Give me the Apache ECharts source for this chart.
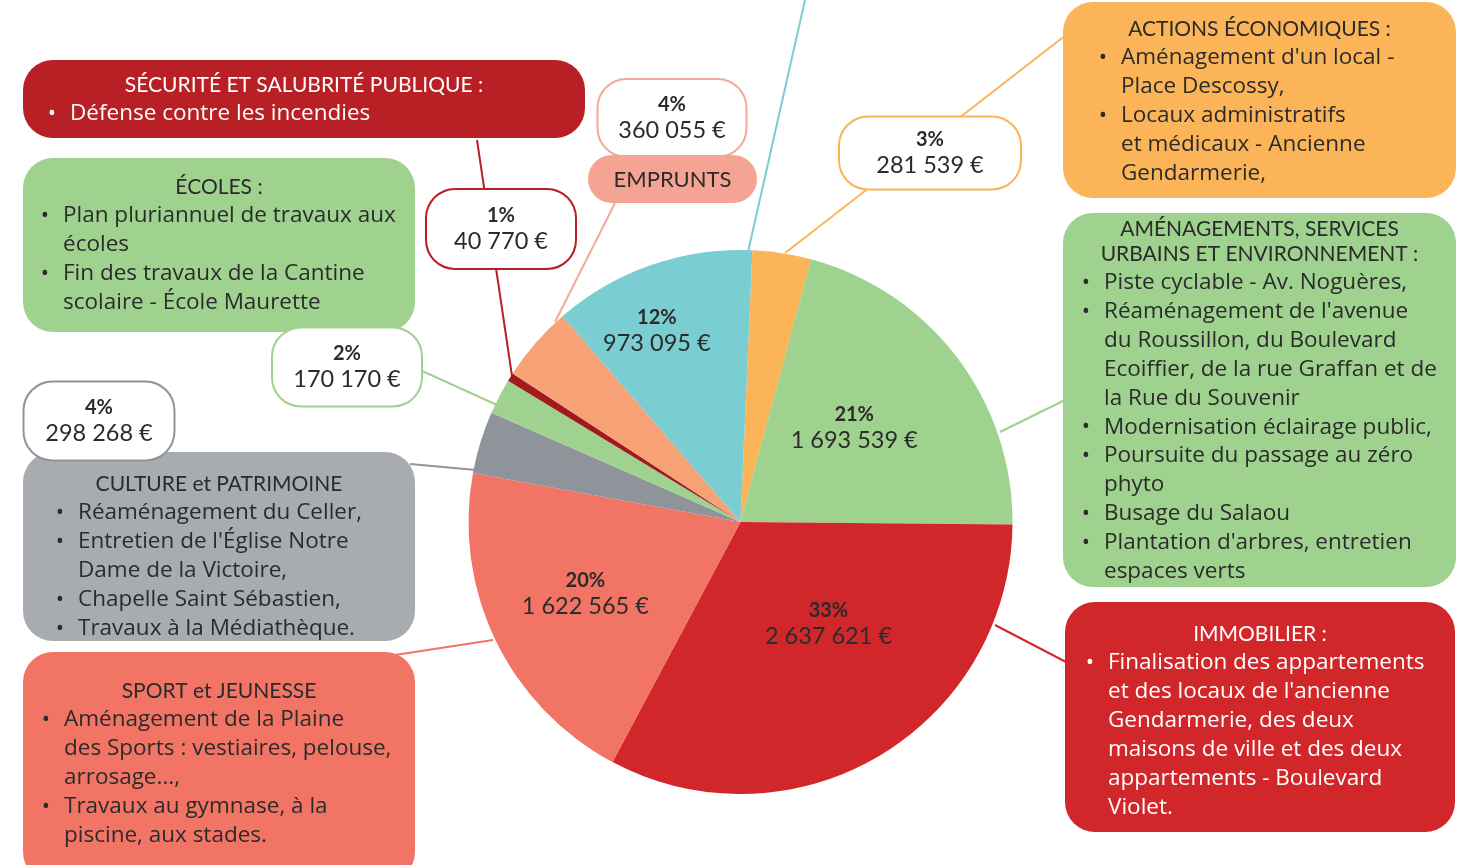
<!DOCTYPE html>
<html>
<head>
<meta charset="utf-8">
<script src="https://cdn.jsdelivr.net/npm/echarts@6/dist/echarts.min.js"></script>
<style>
  html, body { margin: 0; padding: 0; background: #fff; }
  #chart { width: 1471px; height: 865px; }
</style>
</head>
<body>
<div id="chart"></div>
<script>
// parts du camembert, dans le sens horaire a partir du haut
var categories = ['ACTIONS ÉCONOMIQUES', 'AMÉNAGEMENTS, SERVICES URBAINS ET ENVIRONNEMENT', 'IMMOBILIER',
  'SPORT et JEUNESSE', 'CULTURE et PATRIMOINE', 'ÉCOLES', 'SÉCURITÉ ET SALUBRITÉ PUBLIQUE', 'EMPRUNTS', 'AUTRES'];
var montants = [281539, 1693539, 2637621, 1622565, 298268, 170170, 40770, 360055, 973095];
var couleurs = ['#FBB457', '#9FD18F', '#D2272A', '#F27465', '#8F939A', '#9FD18F', '#A01A1E', '#F6A176', '#7ACDD1'];

// textes des encadres
var titreActions = ['ACTIONS ÉCONOMIQUES :'];
var pucesActions = [['Aménagement d\'un local -', 'Place Descossy,'], ['Locaux administratifs', 'et médicaux - Ancienne', 'Gendarmerie,']];
var titreAmenag = ['AMÉNAGEMENTS, SERVICES', 'URBAINS ET ENVIRONNEMENT :'];
var pucesAmenag = [['Piste cyclable - Av. Noguères,'],
  ['Réaménagement de l\'avenue', 'du Roussillon, du Boulevard', 'Ecoiffier, de la rue Graffan et de', 'la Rue du Souvenir'],
  ['Modernisation éclairage public,'], ['Poursuite du passage au zéro', 'phyto'], ['Busage du Salaou'],
  ['Plantation d\'arbres, entretien', 'espaces verts']];
var titreImmo = ['IMMOBILIER :'];
var pucesImmo = [['Finalisation des appartements', 'et des locaux de l\'ancienne', 'Gendarmerie, des deux',
  'maisons de ville et des deux', 'appartements - Boulevard', 'Violet.']];
var titreSport = ['SPORT et JEUNESSE'];
var pucesSport = [['Aménagement de la Plaine', 'des Sports : vestiaires, pelouse,', 'arrosage...,'], ['Travaux au gymnase, à la', 'piscine, aux stades.']];
var titreCulture = ['CULTURE et PATRIMOINE'];
var pucesCulture = [['Réaménagement du Celler,'], ['Entretien de l\'Église Notre', 'Dame de la Victoire,'], ['Chapelle Saint Sébastien,'], ['Travaux à la Médiathèque.']];
var titreEcoles = ['ÉCOLES :'];
var pucesEcoles = [['Plan pluriannuel de travaux aux', 'écoles'], ['Fin des travaux de la Cantine', 'scolaire - École Maurette']];
var titreSecurite = ['SÉCURITÉ ET SALUBRITÉ PUBLIQUE :'];
var pucesSecurite = [['Défense contre les incendies']];

var FONT_T = 'Lato';
var FONT_B = '"Open Sans"';
var SOMBRE = '#2B2B2B';

var boites = [
  {titre: titreActions, puces: pucesActions, x: 1063, y: 2, w: 393, h: 196, fond: '#FBB457', coul: SOMBRE, ty: 29, tx: 1121},
  {titre: titreAmenag, puces: pucesAmenag, x: 1063, y: 213, w: 393, h: 374, fond: '#9FD18F', coul: SOMBRE, ty: 229, tx: 1104},
  {titre: titreImmo, puces: pucesImmo, x: 1065, y: 602, w: 390, h: 230, fond: '#D2272A', coul: '#fff', ty: 634, tx: 1108},
  {titre: titreSport, puces: pucesSport, x: 23, y: 652, w: 392, h: 230, fond: '#F27465', coul: SOMBRE, ty: 691, tx: 64},
  {titre: titreCulture, puces: pucesCulture, x: 23, y: 452, w: 392, h: 189, fond: '#A8ABB0', coul: SOMBRE, ty: 484, tx: 78},
  {titre: titreEcoles, puces: pucesEcoles, x: 23, y: 158, w: 392, h: 174, fond: '#9FD18F', coul: SOMBRE, ty: 187, tx: 63},
  {titre: titreSecurite, puces: pucesSecurite, x: 23, y: 60, w: 562, h: 78, fond: '#B82025', coul: '#fff', ty: 85, tx: 70}
];

// traits de rappel
var traits = [
  {p: [785, 253, 1066, 35], c: '#FBB457'},
  {p: [1000, 432, 1065, 400], c: '#9FD18F'},
  {p: [995, 625, 1066, 662], c: '#D2272A'},
  {p: [493, 640, 395, 655], c: '#F27465'},
  {p: [476, 470, 410, 464], c: '#8F939A'},
  {p: [497, 405, 420, 370], c: '#9FD18F'},
  {p: [512, 376, 477, 140], c: '#B82025'},
  {p: [555, 322, 615, 203], c: '#F4A898'},
  {p: [748, 252, 805, 0], c: '#7ACDD1'}
];

// encadres blancs des petites parts : centre, taille, bordure
var etiquettesExt = {
  0: {x: 930, y: 153, w: 184, h: 75, c: '#FBB457'},
  4: {x: 99, y: 421, w: 153, h: 81, c: '#8F939A'},
  5: {x: 347, y: 367, w: 152, h: 81, c: '#9FD18F'},
  6: {x: 501, y: 229, w: 152, h: 82, c: '#B82025'},
  7: {x: 672, y: 118, w: 151, h: 80, c: '#F4A898'}
};
var decalagesInt = {1: [3, -10], 2: [17, -18], 3: [-30, 11], 8: [-38, -60]};

function euros(v) {
  return String(v).replace(/\B(?=(\d{3})+(?!\d))/g, ' ') + ' €';
}

var riche = {
  p: {fontFamily: FONT_T, fontSize: 20, fontWeight: 'bold', color: SOMBRE, lineHeight: 25, align: 'center'},
  v: {fontFamily: FONT_T, fontSize: 23.5, color: SOMBRE, lineHeight: 26, align: 'center'}
};

var donnees = montants.map(function (v, i) {
  var e = etiquettesExt[i];
  var label;
  if (e) {
    label = {
      show: true, position: 'outside', backgroundColor: '#fff', borderColor: e.c, borderWidth: 2,
      borderRadius: 28, width: e.w - 4, padding: [(e.h - 51) / 2 - 2, 0, (e.h - 51) / 2 - 2, 0], align: 'center'
    };
  } else {
    label = {show: true, position: 'inside'};
  }
  return {name: categories[i], value: v, itemStyle: {color: couleurs[i]}, label: label};
});

var graphiques = [];
traits.forEach(function (t) {
  graphiques.push({type: 'line', z: 0, shape: {x1: t.p[0], y1: t.p[1], x2: t.p[2], y2: t.p[3]},
    style: {stroke: t.c, lineWidth: 2}, silent: true});
});
boites.forEach(function (b) {
  graphiques.push({type: 'rect', z: 0, shape: {x: b.x, y: b.y, width: b.w, height: b.h, r: 30}, style: {fill: b.fond}});
  var y = b.ty;
  b.titre.forEach(function (l, k) {
    if (k > 0) y += 25;
    graphiques.push({type: 'text', z: 1, x: b.x + b.w / 2, y: y,
      style: {text: l, fill: b.coul, font: '21px ' + FONT_T, textAlign: 'center', textVerticalAlign: 'middle'}});
  });
  b.puces.forEach(function (puce) {
    puce.forEach(function (l, k) {
      y += 28.85;
      if (k === 0) {
        graphiques.push({type: 'text', z: 1, x: b.tx - 18, y: y,
          style: {text: '•', fill: b.coul, font: '22px ' + FONT_B, textAlign: 'center', textVerticalAlign: 'middle'}});
      }
      graphiques.push({type: 'text', z: 1, x: b.tx, y: y,
        style: {text: l, fill: b.coul, font: '22.5px ' + FONT_B, textAlign: 'left', textVerticalAlign: 'middle'}});
    });
  });
});
// pastille EMPRUNTS, par-dessus l'encadre du montant
graphiques.push({type: 'rect', z: 10, shape: {x: 588, y: 155, width: 169, height: 48, r: 24}, style: {fill: '#F5A493'}});
graphiques.push({type: 'text', z: 11, x: 672.5, y: 180,
  style: {text: 'EMPRUNTS', fill: SOMBRE, font: '22px ' + FONT_T, textAlign: 'center', textVerticalAlign: 'middle'}});

var chart = echarts.init(document.getElementById('chart'));
chart.setOption({
  animation: false,
  graphic: graphiques,
  series: [{
    type: 'pie',
    center: [740.5, 522],
    radius: 272,
    startAngle: 87.5,
    clockwise: true,
    avoidLabelOverlap: false,
    labelLine: {show: false},
    emphasis: {disabled: true},
    label: {
      formatter: function (p) {
        return '{p|' + Math.round(p.percent) + '%}\n{v|' + euros(p.value) + '}';
      },
      rich: riche
    },
    labelLayout: function (p) {
      var e = etiquettesExt[p.dataIndex];
      if (e) return {x: e.x, y: e.y, align: 'center', verticalAlign: 'middle'};
      var d = decalagesInt[p.dataIndex];
      return {dx: d[0], dy: d[1]};
    },
    data: donnees
  }]
});
window.addEventListener('resize', function () { chart.resize(); });
</script>
</body>
</html>
